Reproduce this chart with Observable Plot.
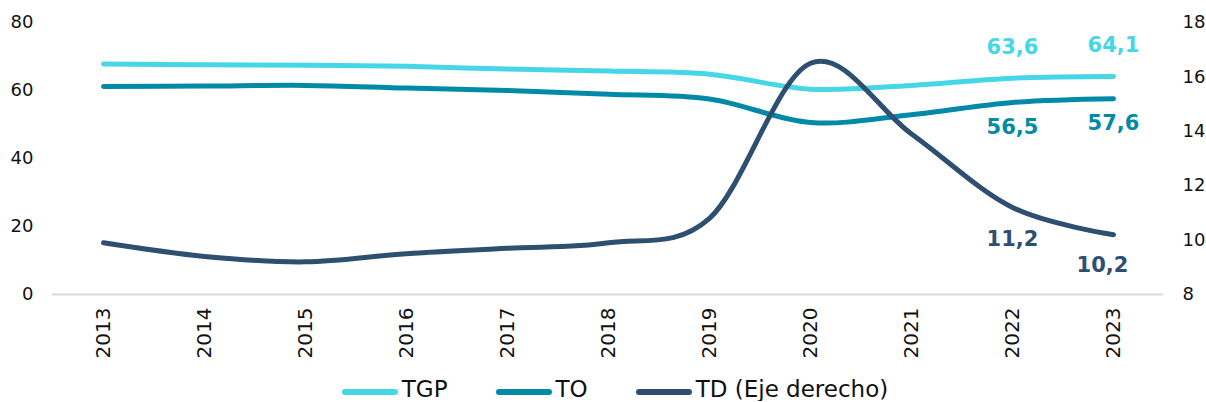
<!DOCTYPE html>
<html>
<head>
<meta charset="utf-8">
<script src="https://cdn.jsdelivr.net/npm/d3@7"></script>
<script src="https://cdn.jsdelivr.net/npm/@observablehq/plot@0.6"></script>
<style>
  html, body { margin: 0; padding: 0; background: #fff; overflow: hidden; }
  #chart svg { display: block; }
  #legend {
    display: flex; justify-content: center; align-items: center;
    height: 23px; line-height: 23px; margin-top: 8px; padding-left: 24px; box-sizing: border-box;
    font-family: "DejaVu Sans", Verdana, sans-serif; font-size: 23px; color: #111;
    gap: 48px;
  }
  .item { display: flex; align-items: center; }
  .sw { width: 56px; height: 6px; border-radius: 3px; margin-right: 4px; position: relative; top: 2px; }
</style>
</head>
<body>
<div id="chart"></div>
<div id="legend"></div>
<script>
const years = [2013, 2014, 2015, 2016, 2017, 2018, 2019, 2020, 2021, 2022, 2023];
const tgp = [67.8, 67.6, 67.4, 67.1, 66.3, 65.7, 64.8, 60.4, 61.5, 63.6, 64.1];
const to  = [61.2, 61.3, 61.5, 60.7, 60.0, 58.9, 57.5, 50.6, 52.9, 56.5, 57.6];
const td  = [9.9, 9.4, 9.2, 9.5, 9.7, 9.9, 10.8, 16.5, 13.9, 11.2, 10.2];
const labelYears = [2022, 2023];
const leftTicks = [0, 20, 40, 60, 80];
const rightTicks = [8, 10, 12, 14, 16, 18];
const seriesNames = ["TGP", "TO", "TD (Eje derecho)"];
const colors = ["#45d7e7", "#008aa7", "#2f4f70"];

const yRight = d3.scaleLinear([8, 18], [0, 80]);
const data = years.map((year, i) => ({ year, tgp: tgp[i], to: to[i], td: td[i] }));
const lab = data.filter(d => labelYears.includes(d.year));
const fmt = v => String(v).replace(".", ",");
const curve = d3.curveCardinal.tension(0);

const chart = Plot.plot({
  width: 1206,
  height: 370,
  marginTop: 22,
  marginBottom: 76,
  marginLeft: 52,
  marginRight: 43,
  style: { fontFamily: "DejaVu Sans, Verdana, sans-serif", fontSize: "18px", color: "#111", background: "#fff" },
  x: { type: "point", domain: years, padding: 0.5 },
  y: { domain: [0, 80] },
  marks: [
    Plot.ruleY([0], { stroke: "#d9d9d9", strokeWidth: 2 }),
    Plot.axisY({ ticks: leftTicks, tickSize: 0, tickPadding: 19, fontSize: 18, label: null }),
    Plot.axisY({ anchor: "right", ticks: rightTicks.map(v => yRight(v)), tickFormat: v => String(Math.round(yRight.invert(v))), tickSize: 0, tickPadding: 19, fontSize: 18, label: null }),
    Plot.axisX({ tickRotate: -90, tickSize: 0, tickPadding: 13, fontSize: 20, tickFormat: d => String(d), label: null }),
    Plot.line(data, { x: "year", y: "tgp", stroke: colors[0], strokeWidth: 5, curve }),
    Plot.line(data, { x: "year", y: "to", stroke: colors[1], strokeWidth: 5, curve }),
    Plot.line(data, { x: "year", y: d => yRight(d.td), stroke: colors[2], strokeWidth: 5, curve }),
    Plot.text(lab, { x: "year", y: "tgp", text: d => fmt(d.tgp), dy: -31, fill: colors[0], fontWeight: "bold", fontSize: 21 }),
    Plot.text(lab, { x: "year", y: "to", text: d => fmt(d.to), dy: 25, fill: colors[1], fontWeight: "bold", fontSize: 21 }),
    Plot.text(lab.slice(0, 1), { x: "year", y: d => yRight(d.td), text: d => fmt(d.td), dy: 32, fill: colors[2], fontWeight: "bold", fontSize: 21 }),
    Plot.text(lab.slice(1), { x: "year", y: d => yRight(d.td), text: d => fmt(d.td), dy: 31, dx: -11, fill: colors[2], fontWeight: "bold", fontSize: 21 })
  ]
});
document.getElementById("chart").appendChild(chart);

const legend = document.getElementById("legend");
seriesNames.forEach((name, i) => {
  const item = document.createElement("div");
  item.className = "item";
  const sw = document.createElement("div");
  sw.className = "sw";
  sw.style.background = colors[i];
  const t = document.createElement("span");
  t.textContent = name;
  item.appendChild(sw);
  item.appendChild(t);
  legend.appendChild(item);
});
</script>
</body>
</html>
